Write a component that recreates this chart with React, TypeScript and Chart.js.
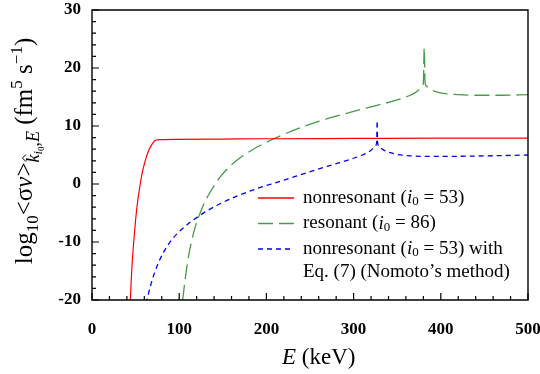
import React, { useEffect, useRef } from 'react';
import { Chart, registerables } from 'chart.js';

Chart.register(...registerables);

// ---- data ----
const xTickValues = [0, 100, 200, 300, 400, 500];
const yTickValues = [-20, -10, 0, 10, 20, 30];

const nonresE = [44, 45, 46, 48, 50, 52, 55, 58, 61, 64, 67, 70, 72, 75, 80, 100, 150, 200, 300, 400, 500];
const nonresLog = [-20, -16.5, -13.8, -9.7, -6.2, -3.4, -0.3, 2.2, 4.0, 5.4, 6.4, 7.1, 7.45, 7.6, 7.65, 7.7, 7.75, 7.8, 7.85, 7.9, 7.9];

const resE = [104, 107, 111.5, 118, 124, 130, 137.5, 146, 155, 168, 181.6, 200, 216, 239, 260, 285, 320, 350, 365, 373, 378, 380, 381, 382, 384, 388, 395, 405, 420, 440, 470, 500];
const resLog = [-20, -16.2, -11.8, -7.6, -5.0, -2.9, -0.9, 1.0, 2.6, 4.3, 5.7, 7.2, 8.3, 9.7, 10.8, 11.9, 13.3, 14.5, 15.3, 16.0, 16.8, 17.4, 23.5, 17.4, 16.8, 16.3, 15.9, 15.6, 15.4, 15.3, 15.3, 15.4];

const nomotoE = [62, 63, 67, 72, 77, 82, 90, 100, 110, 120, 130, 143, 166, 193, 212, 235, 258, 280, 297, 310, 320, 325, 326.5, 327, 327.5, 330, 335, 342, 350, 365, 392, 430, 470, 500];
const nomotoLog = [-20.6, -20, -17.6, -15.2, -13.3, -11.8, -9.9, -8.2, -6.9, -5.8, -4.8, -3.7, -2.1, -0.6, 0.3, 1.4, 2.5, 3.5, 4.3, 5.0, 5.8, 6.6, 7.2, 10.9, 7.2, 6.3, 5.8, 5.4, 5.1, 4.85, 4.75, 4.8, 4.9, 5.0];

const RED = '#ff0000';
const GREEN = '#479a47';
const BLUE = '#0000ee';
const FONT = '"Liberation Serif", "Times New Roman", serif';

type Seg = { t: string; size: number; italic?: boolean; dy?: number; hat?: boolean };

function drawRich(ctx: CanvasRenderingContext2D, segs: Seg[], x: number, y: number, measureOnly = false): number {
  let cx = x;
  for (const s of segs) {
    ctx.font = `${s.italic ? 'italic ' : ''}${s.size}px ${FONT}`;
    const w = ctx.measureText(s.t).width;
    if (!measureOnly) {
      ctx.fillText(s.t, cx, y + (s.dy || 0));
      if (s.hat) {
        const mx = cx + w * 0.55;
        const top = y + (s.dy || 0) - s.size * 0.78;
        ctx.save();
        ctx.lineWidth = 1;
        ctx.beginPath();
        ctx.moveTo(mx - 3.5, top + 1);
        ctx.lineTo(mx, top - 2.5);
        ctx.lineTo(mx + 3.5, top + 1);
        ctx.stroke();
        ctx.restore();
      }
    }
    cx += w;
  }
  return cx - x;
}

const legendRows: { color: string; dash: number[]; lines: Seg[][] }[] = [
  {
    color: RED, dash: [],
    lines: [[
      { t: 'nonresonant (', size: 19 }, { t: 'i', size: 19, italic: true }, { t: '0', size: 13, dy: 4 }, { t: ' = 53)', size: 19 },
    ]],
  },
  {
    color: GREEN, dash: [15, 6],
    lines: [[
      { t: 'resonant (', size: 19 }, { t: 'i', size: 19, italic: true }, { t: '0', size: 13, dy: 4 }, { t: ' = 86)', size: 19 },
    ]],
  },
  {
    color: BLUE, dash: [5, 4],
    lines: [
      [{ t: 'nonresonant (', size: 19 }, { t: 'i', size: 19, italic: true }, { t: '0', size: 13, dy: 4 }, { t: ' = 53) with', size: 19 }],
      [{ t: 'Eq. (7) (Nomoto\u2019s method)', size: 19 }],
    ],
  },
];

const yTitleSegs: Seg[] = [
  { t: 'log', size: 25 },
  { t: '10', size: 17, dy: 6 },
  { t: '<\u03c3', size: 25 },
  { t: 'v', size: 25, italic: true },
  { t: '>', size: 25 },
  { t: 'k', size: 18, italic: true, dy: 7, hat: true },
  { t: 'i', size: 12.5, italic: true, dy: 10 },
  { t: '0', size: 9, dy: 12 },
  { t: ',', size: 18, dy: 7 },
  { t: 'E', size: 18, italic: true, dy: 7 },
  { t: ' (fm', size: 25 },
  { t: '5', size: 17, dy: -10 },
  { t: ' s', size: 25 },
  { t: '\u22121', size: 17, dy: -10 },
  { t: ')', size: 25 },
];

const xTitleSegs: Seg[] = [
  { t: 'E', size: 23, italic: true },
  { t: ' (keV)', size: 23 },
];

const decorPlugin = {
  id: 'decor',
  afterDraw(chart: any) {
    const ctx: CanvasRenderingContext2D = chart.ctx;
    const { left, right, top, bottom } = chart.chartArea;
    const xs = chart.scales.x;
    const ys = chart.scales.y;
    ctx.save();
    ctx.strokeStyle = '#000';
    ctx.lineWidth = 1.4;
    ctx.beginPath();
    ctx.rect(left, top, right - left, bottom - top);
    ctx.stroke();
    // ticks
    ctx.lineWidth = 1.2;
    ctx.beginPath();
    for (let v = 0; v <= 500; v += 20) {
      const px = xs.getPixelForValue(v);
      const len = v % 100 === 0 ? 7 : 4;
      ctx.moveTo(px, bottom);
      ctx.lineTo(px, bottom - len);
    }
    for (let v = -20; v <= 30; v += 2) {
      const py = ys.getPixelForValue(v);
      const len = v % 10 === 0 ? 7 : 4;
      ctx.moveTo(left, py);
      ctx.lineTo(left + len, py);
    }
    ctx.stroke();

    // legend
    ctx.fillStyle = '#000';
    ctx.textBaseline = 'middle';
    ctx.textAlign = 'left';
    const rowY = [198, 223.5, 249];
    legendRows.forEach((row, i) => {
      const y = rowY[i];
      ctx.save();
      ctx.strokeStyle = row.color;
      ctx.lineWidth = 1.3;
      ctx.setLineDash(row.dash);
      ctx.beginPath();
      ctx.moveTo(258, y);
      ctx.lineTo(294, y);
      ctx.stroke();
      ctx.restore();
      row.lines.forEach((ln, j) => {
        drawRich(ctx, ln, 303, y + j * 23.5);
      });
    });

    // x title
    ctx.textBaseline = 'alphabetic';
    drawRich(ctx, xTitleSegs, 282, 364);

    // y title (rotated), centred on y = 151
    const len = drawRich(ctx, yTitleSegs, 0, 0, true);
    ctx.save();
    ctx.translate(32, 151 + len / 2);
    ctx.rotate(-Math.PI / 2);
    ctx.strokeStyle = '#000';
    drawRich(ctx, yTitleSegs, 0, 0);
    ctx.restore();
    ctx.restore();
  },
};

const zeroPad = (s: any) => {
  s.paddingTop = 0;
  s.paddingBottom = 0;
  s.paddingLeft = 0;
  s.paddingRight = 0;
};

export default function App() {
  const ref = useRef<HTMLCanvasElement>(null);
  useEffect(() => {
    const canvas = ref.current!;
    const pts = (xs: number[], ys: number[]) => xs.map((x, i) => ({ x, y: ys[i] }));
    const tickFont = { family: FONT, size: 17, weight: 'bold' as const };
    const chart = new Chart(canvas, {
      type: 'line',
      data: {
        datasets: [
          { label: 'nonresonant (i0 = 53)', data: pts(nonresE, nonresLog), borderColor: RED, borderWidth: 1.2, pointRadius: 0, cubicInterpolationMode: 'monotone' },
          { label: 'resonant (i0 = 86)', data: pts(resE, resLog), borderColor: GREEN, borderWidth: 1.3, borderDash: [15, 6], pointRadius: 0, cubicInterpolationMode: 'monotone' },
          { label: "nonresonant (i0 = 53) with Eq. (7) (Nomoto's method)", data: pts(nomotoE, nomotoLog), borderColor: BLUE, borderWidth: 1.3, borderDash: [5, 4], pointRadius: 0, cubicInterpolationMode: 'monotone' },
        ],
      },
      options: {
        responsive: false,
        animation: false,
        devicePixelRatio: 1,
        layout: { padding: { top: 10, right: 12, left: 0, bottom: 0 } },
        plugins: { legend: { display: false }, tooltip: { enabled: false } },
        scales: {
          x: {
            type: 'linear', min: 0, max: 500,
            afterBuildTicks: (s: any) => { s.ticks = xTickValues.map((v) => ({ value: v })); },
            grid: { display: false, drawTicks: false },
            border: { display: false },
            ticks: { font: tickFont, color: '#000', padding: 19, maxRotation: 0, autoSkip: false },
            afterFit: (s: any) => { s.height = 74; zeroPad(s); },
          },
          y: {
            type: 'linear', min: -20, max: 30,
            afterBuildTicks: (s: any) => { s.ticks = yTickValues.map((v) => ({ value: v })); },
            grid: { display: false, drawTicks: false },
            border: { display: false },
            ticks: { font: tickFont, color: '#000', padding: 11, autoSkip: false },
            afterFit: (s: any) => { s.width = 92; zeroPad(s); },
          },
        },
      } as any,
      plugins: [decorPlugin],
    });
    return () => chart.destroy();
  }, []);
  return (
    <div style={{ position: 'fixed', left: 0, top: 0, width: 540, height: 374, background: '#fff' }}>
      <canvas ref={ref} width={540} height={374} style={{ width: 540, height: 374, display: 'block' }} />
    </div>
  );
}
